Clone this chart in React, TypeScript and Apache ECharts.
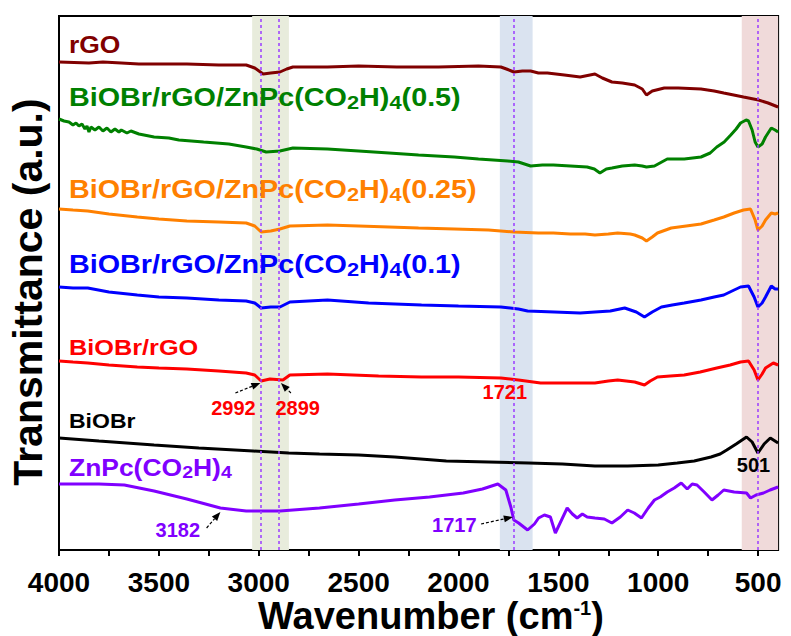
import React, { useEffect, useRef } from "react";
import * as echarts from "echarts";

const FONT = '"Liberation Sans", Arial, Helvetica, sans-serif';

// x axis (wavenumber, cm-1)
const xLabelValues = [4000, 3500, 3000, 2500, 2000, 1500, 1000, 500];
const xTickValues = [4000, 3750, 3500, 3250, 3000, 2750, 2500, 2250, 2000, 1750, 1500, 1250, 1000, 750, 500];

// spectra: [wavenumber, transmittance (a.u., offset)]
const rGO: [number, number][] = [
  [4000, 488], [3850, 487], [3780, 488], [3688, 487], [3600, 486], [3500, 486], [3360, 486], [3200, 485], [3063, 485], [3020, 482], [2978, 476],
  [2940, 477], [2894, 478], [2860, 481], [2829, 483], [2656, 483], [2500, 484], [2309, 483], [2100, 483], [1900, 484], [1788, 483], [1760, 481],
  [1723, 478], [1680, 479], [1639, 479], [1600, 477], [1555, 477], [1470, 475], [1391, 473], [1317, 476], [1280, 472], [1232, 468],
  [1180, 467], [1118, 465], [1080, 461], [1059, 455], [1030, 459], [970, 462], [900, 462], [786, 461], [720, 459], [672, 457], [573, 453], [498, 450], [450, 447], [400, 443],
];
const green05: [number, number][] = [
  [4000, 431], [3975, 429], [3950, 428], [3930, 425], [3915, 427], [3900, 424], [3885, 426], [3870, 421], [3860, 424],
  [3850, 418], [3840, 423], [3820, 420], [3800, 423], [3780, 419], [3760, 422], [3740, 418], [3720, 421], [3700, 418],
  [3688, 420], [3660, 417], [3640, 419], [3600, 416],
  [3524, 413], [3450, 412], [3400, 410], [3276, 408], [3150, 406], [3063, 403], [3010, 401],
  [2963, 398], [2894, 399], [2829, 402], [2656, 401], [2500, 399], [2348, 397], [2200, 395], [2021, 393], [1900, 391], [1753, 389], [1700, 388],
  [1639, 384], [1580, 385], [1525, 385], [1440, 384], [1356, 383], [1320, 381], [1292, 377], [1260, 381], [1232, 382], [1180, 384], [1118, 385], [1080, 384], [1059, 383], [1019, 384],
  [955, 391], [870, 391], [786, 393], [740, 397], [707, 403], [670, 408], [637, 415], [610, 421], [588, 427], [560, 430], [548, 429], [530, 420], [515, 408], [501, 403],
  [480, 406], [463, 413], [434, 422], [415, 420], [400, 418],
];
const orange025: [number, number][] = [
  [4000, 341], [3930, 340], [3856, 339], [3750, 336], [3608, 333], [3500, 331], [3360, 329], [3200, 328], [3063, 327], [3020, 324], [2988, 318],
  [2940, 319], [2894, 321], [2844, 324], [2656, 325], [2500, 324], [2348, 323], [2200, 322], [2021, 321], [1850, 320], [1723, 318],
  [1600, 317], [1525, 317], [1440, 316], [1366, 316], [1317, 315], [1250, 316], [1203, 317],
  [1140, 316], [1118, 315], [1080, 312], [1059, 309], [1030, 313], [1004, 317], [935, 322], [860, 324], [786, 326], [720, 330], [672, 333], [620, 337], [573, 340], [538, 341],
  [515, 330], [501, 320], [480, 324], [463, 330], [434, 337], [415, 336], [400, 337],
];
const blue01: [number, number][] = [
  [4000, 263], [3930, 262], [3856, 262], [3750, 258], [3608, 255], [3500, 253], [3360, 252], [3200, 250], [3063, 249], [3020, 247], [2988, 242],
  [2940, 243], [2894, 243], [2844, 248], [2656, 250], [2450, 247], [2185, 245], [2000, 244], [1788, 243], [1700, 241], [1654, 239], [1520, 238],
  [1391, 237], [1317, 238], [1240, 239], [1168, 242], [1110, 238], [1069, 233], [1030, 238],
  [984, 243], [930, 245], [870, 247], [786, 250], [720, 253], [672, 255], [620, 260], [588, 263], [548, 264], [520, 253], [501, 243], [480, 247], [463, 253],
  [434, 264], [415, 261], [400, 261],
];
const biobrRGO: [number, number][] = [
  [4000, 189], [3930, 188], [3856, 187], [3750, 185], [3608, 183], [3500, 182], [3360, 181], [3200, 179], [3063, 177], [3020, 175], [2988, 169], [2944, 171], [2879, 170],
  [2844, 175], [2656, 176], [2400, 174], [2185, 173], [2000, 173], [1788, 172], [1700, 170], [1589, 167], [1450, 167], [1317, 167], [1250, 169], [1203, 170], [1118, 168],
  [1069, 165], [1040, 169], [1004, 173], [940, 174], [870, 175], [790, 178], [707, 182], [640, 185], [588, 188], [548, 189], [520, 180], [501, 170], [480, 176], [463, 182],
  [424, 187], [400, 185],
];
const biobr: [number, number][] = [
  [4000, 112], [3800, 109], [3524, 105], [3300, 102], [3028, 99], [2850, 97], [2696, 96], [2500, 95], [2319, 93], [2061, 89], [1850, 88], [1649, 87], [1480, 86], [1317, 84],
  [1153, 84], [1000, 85], [905, 87], [820, 89], [736, 93], [690, 96], [657, 100], [610, 106], [558, 113], [530, 108], [501, 97], [470, 106],
  [439, 112], [400, 107],
];
const znpc: [number, number][] = [
  [4000, 66], [3800, 66], [3673, 65], [3524, 59], [3360, 51], [3192, 42], [3063, 39], [2894, 39], [2696, 42], [2500, 46],
  [2319, 50], [2145, 53], [1976, 57], [1880, 61], [1803, 66], [1763, 60], [1738, 43], [1723, 30], [1699, 27],
  [1654, 20], [1620, 26], [1599, 32], [1570, 35], [1540, 33], [1515, 17], [1456, 42], [1430, 36], [1406, 32], [1380, 36], [1356, 33], [1317, 32],
  [1270, 31], [1232, 27], [1190, 33], [1153, 40], [1120, 37], [1084, 32], [1050, 42], [1019, 50], [990, 53], [955, 58], [920, 62], [885, 67], [855, 61], [830, 66], [806, 65],
  [770, 58], [731, 50], [700, 55], [672, 60], [620, 58], [558, 57], [538, 52], [510, 55], [473, 57], [440, 60], [400, 63],
];

const curveNames = [
  "rGO", "BiOBr/rGO/ZnPc(CO2H)4(0.5)", "BiOBr/rGO/ZnPc(CO2H)4(0.25)", "BiOBr/rGO/ZnPc(CO2H)4(0.1)",
  "BiOBr/rGO", "BiOBr", "ZnPc(CO2H)4",
];
const curveData = [rGO, green05, orange025, blue01, biobrRGO, biobr, znpc];
const curveColors = ["#800000", "#008000", "#ff8000", "#0000ff", "#ff0000", "#000000", "#8000ff"];

// shaded regions [from, to]
const bandRanges: [number, number][] = [[3033, 2849], [1793, 1629], [582, 400]];
const bandColors = ["#e8ecdc", "#dae3f0", "#f0dada"];
// dashed peak markers
const peakLines = [2992, 2899, 1721, 501];

// peak annotations
const annTexts = ["2992", "2899", "1721", "501", "3182", "1717"];
const annColors = ["#ff0000", "#ff0000", "#ff0000", "#000000", "#8000ff", "#8000ff"];
const annAt: [number, number][] = [[3127, 142], [2805, 142], [1768, 158], [523, 85], [3405, 20], [2021, 25]];
const annTail: ([number, number] | null)[] = [[3117, 157], [2839, 157], null, null, [3261, 22], [1887, 26]];
const annHead: ([number, number] | null)[] = [[2992, 167], [2889, 167], null, null, [3192, 38], [1728, 33]];

// curve labels (rich text)
const labelTexts = [
  "rGO",
  "BiOBr/rGO/ZnPc(CO{s|2}H){s|4}(0.5)",
  "BiOBr/rGO/ZnPc(CO{s|2}H){s|4}(0.25)",
  "BiOBr/rGO/ZnPc(CO{s|2}H){s|4}(0.1)",
  "BiOBr/rGO",
  "BiOBr",
  "ZnPc(CO{s|2}H){s|4}",
];
const labelY = [45, 98, 190, 265, 348, 421, 468];
const labelSize = [23, 25, 25, 25, 22, 20, 23];

export default function App() {
  const ref = useRef<HTMLDivElement>(null);
  useEffect(() => {
    const chart = echarts.init(ref.current!, null, { renderer: "svg" });
    const option: any = {
      animation: false,
      grid: { left: 59, right: 6, top: 16, bottom: 86, show: true, borderColor: "#000", borderWidth: 2, backgroundColor: "transparent" },
      xAxis: {
        type: "value", min: 400, max: 4000, inverse: true,
        axisLine: { show: true, lineStyle: { color: "#000", width: 2 } },
        axisTick: { show: true, customValues: xTickValues, length: 6, inside: false, lineStyle: { color: "#000", width: 2 } },
        axisLabel: {
          show: true, customValues: xLabelValues, fontSize: 28, fontWeight: "bold", fontFamily: FONT, color: "#000", margin: 18,
          formatter: (v: number) => String(v),
        },
        splitLine: { show: false },
      },
      yAxis: {
        type: "value", min: 0, max: 534,
        axisLine: { show: true, lineStyle: { color: "#000", width: 2 } },
        axisTick: { show: false }, axisLabel: { show: false }, splitLine: { show: false },
      },
      series: curveData.map((d, i) => ({
        type: "line", name: curveNames[i], data: d, showSymbol: false, symbol: "none", silent: true,
        lineStyle: { color: curveColors[i], width: 3 }, itemStyle: { color: curveColors[i] },
        ...(i === 0
          ? {
              markArea: {
                silent: true, z: 1,
                data: bandRanges.map((r, k) => [{ xAxis: r[0], itemStyle: { color: bandColors[k] } }, { xAxis: r[1] }]),
              },
              markLine: {
                silent: true, symbol: ["none", "none"], label: { show: false },
                lineStyle: { color: "#9a3cff", type: [3, 3], width: 1.5 },
                data: peakLines.map((v) => ({ xAxis: v })),
              },
            }
          : {}),
      })),
    };
    chart.setOption(option);

    const px = (p: [number, number]) => chart.convertToPixel({ gridIndex: 0 }, p) as number[];
    const graphics: any[] = [];
    labelTexts.forEach((t, i) => {
      graphics.push({
        type: "text", x: 69, y: labelY[i], scaleX: 1.15, silent: true, z: 100,
        style: {
          text: t, fill: curveColors[i], fontSize: labelSize[i], fontWeight: "bold", fontFamily: FONT,
          align: "left", verticalAlign: "middle",
          rich: { s: { fontSize: Math.round(labelSize[i] * 0.76), fontWeight: "bold", fontFamily: FONT, fill: curveColors[i], padding: [8, 0, 0, 0] } },
        },
      });
    });
    annTexts.forEach((t, i) => {
      const p = px(annAt[i]);
      graphics.push({
        type: "text", x: p[0], y: p[1], silent: true, z: 100,
        style: { text: t, fill: annColors[i], fontSize: 20, fontWeight: "bold", fontFamily: FONT, align: "center", verticalAlign: "middle" },
      });
      const tl = annTail[i], hd = annHead[i];
      if (tl && hd) {
        const a = px(tl), b = px(hd);
        const dx = b[0] - a[0], dy = b[1] - a[1];
        const len = Math.sqrt(dx * dx + dy * dy);
        const ux = dx / len, uy = dy / len;
        const L = 9, W = 3.5;
        const bx = b[0] - ux * L, by = b[1] - uy * L;
        graphics.push({
          type: "line", silent: true, z: 100,
          shape: { x1: a[0], y1: a[1], x2: bx, y2: by },
          style: { stroke: "#000", lineWidth: 1.2, lineDash: [3, 2] },
        });
        graphics.push({
          type: "polygon", silent: true, z: 100,
          shape: { points: [[b[0], b[1]], [bx - uy * W, by + ux * W], [bx + uy * W, by - ux * W]] },
          style: { fill: "#000" },
        });
      }
    });
    graphics.push({
      type: "text", x: 28, y: 292, rotation: Math.PI / 2, silent: true, z: 100,
      style: { text: "Transmittance (a.u.)", fill: "#000", fontSize: 41, fontWeight: "bold", fontFamily: FONT, align: "center", verticalAlign: "middle" },
    });
    graphics.push({
      type: "text", x: 431, y: 616, silent: true, z: 100,
      style: {
        text: "Wavenumber (cm{sup|-1})", fill: "#000", fontSize: 38, fontWeight: "bold", fontFamily: FONT,
        align: "center", verticalAlign: "middle",
        rich: { sup: { fontSize: 20, fontWeight: "bold", fontFamily: FONT, fill: "#000", padding: [0, 0, 16, 0] } },
      },
    });
    chart.setOption({ graphic: graphics });
    return () => chart.dispose();
  }, []);
  return <div ref={ref} style={{ position: "absolute", left: 0, top: 0, width: 791, height: 636, background: "#fff" }} />;
}
